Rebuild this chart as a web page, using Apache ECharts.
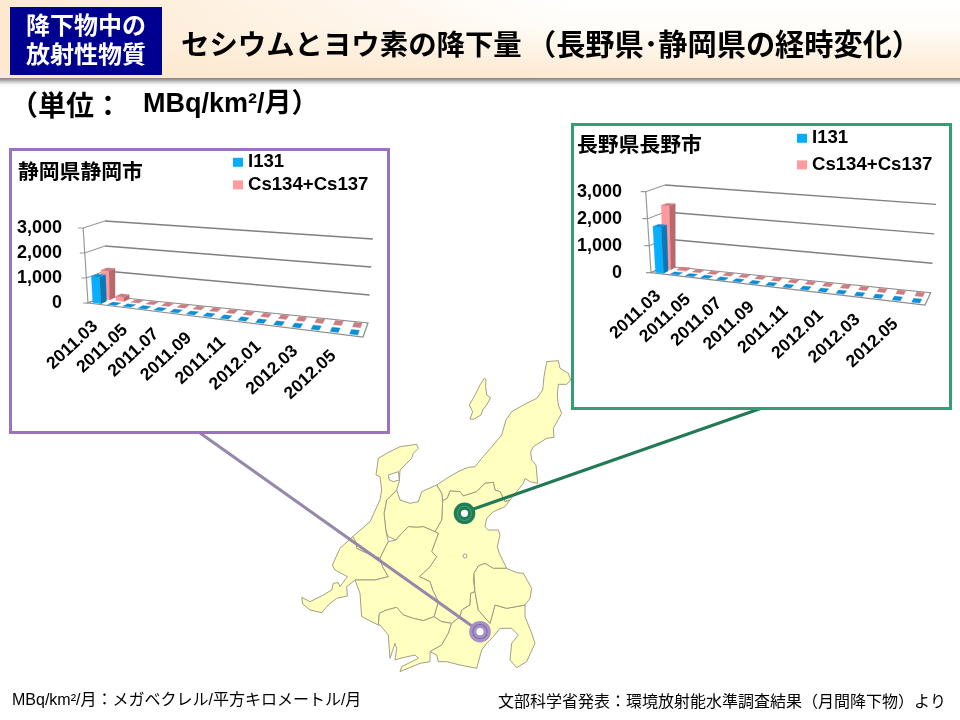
<!DOCTYPE html>
<html lang="ja">
<head>
<meta charset="utf-8">
<style>html,body{margin:0;padding:0;background:#fff}#c{width:960px;height:720px}</style>
<script src="https://cdn.jsdelivr.net/npm/echarts@6/dist/echarts.min.js"></script>
</head>
<body>
<div id="c"></div>
<script>
// ---------- data ----------
const months = ['2011.03','2011.04','2011.05','2011.06','2011.07','2011.08','2011.09','2011.10','2011.11','2011.12','2012.01','2012.02','2012.03','2012.04','2012.05','2012.06'];
const shizuokaI131 = [1050,0,0,0,0,0,0,0,0,0,0,0,0,0,0,0];
const shizuokaCs   = [1150,170,0,0,0,0,0,0,0,0,0,0,0,0,0,0];
const naganoI131   = [1700,0,0,0,0,0,0,0,0,0,0,0,0,0,0,0];
const naganoCs     = [2350,40,0,0,0,0,0,0,0,0,0,0,0,0,0,0];
const yTicks = [0,1000,2000,3000];
const seriesI = 'I131';
const seriesC = 'Cs134+Cs137';

// ---------- map outlines (decorative background, traced at 3x) ----------
const mapOrigin = [260,350];
const regions = [
 [[672,86],[678,88],[677,110],[680,135],[692,143],[680,165],[668,180],[663,195],[640,208],[630,207],[638,185],[628,165],[645,135],[660,105]],
 [[530,405],[560,385],[600,362],[625,352],[645,350],[665,325],[700,285],[725,255],[738,210],[755,185],[790,165],[830,145],[848,120],[852,80],[860,35],[895,32],[900,55],[925,70],[932,90],[920,103],[895,103],[892,135],[895,165],[905,190],[880,235],[882,262],[860,265],[820,290],[812,305],[815,330],[828,345],[833,400],[810,395],[795,385],[790,400],[750,450],[735,455],[720,425],[705,420],[700,397],[675,400],[650,425],[610,438],[600,425],[570,423],[562,445],[548,452],[545,430]],
 [[548,452],[562,445],[570,423],[600,425],[610,438],[650,425],[675,400],[700,397],[705,420],[720,425],[735,455],[750,450],[735,470],[700,485],[680,505],[675,530],[685,540],[715,540],[720,555],[712,590],[718,610],[740,655],[700,655],[675,640],[655,648],[642,670],[640,690],[645,725],[632,730],[630,765],[605,780],[600,800],[575,820],[545,815],[522,800],[535,755],[518,720],[510,695],[478,680],[510,650],[530,620],[515,605],[535,550],[525,545],[545,510]],
 [[410,420],[420,450],[450,460],[475,455],[485,425],[530,405],[545,430],[548,452],[545,510],[525,545],[490,530],[470,532],[445,530],[425,550],[408,570],[385,560],[378,545],[372,490],[380,450]],
 [[278,560],[330,515],[360,450],[365,420],[360,380],[348,375],[355,325],[380,310],[420,290],[470,283],[475,295],[460,310],[455,325],[420,360],[418,395],[410,420],[380,450],[372,490],[378,545],[385,575],[372,600],[360,625],[310,605],[290,595],[287,575]],
 [[278,560],[287,575],[290,595],[310,605],[360,625],[368,650],[385,680],[345,690],[285,690],[260,710],[262,738],[230,745],[205,765],[185,788],[150,780],[128,762],[125,742],[150,755],[190,735],[215,720],[220,700],[235,698],[240,710],[262,680],[225,660],[217,645],[240,595]],
 [[372,600],[385,575],[408,570],[425,550],[445,530],[470,532],[490,530],[525,545],[535,550],[515,605],[530,620],[510,650],[478,680],[510,695],[518,720],[535,755],[522,800],[490,812],[460,805],[430,795],[410,772],[380,780],[358,790],[355,825],[305,800],[300,730],[285,690],[345,690],[385,680],[368,650],[360,625]],
 [[358,790],[380,780],[410,772],[430,795],[460,805],[490,812],[522,800],[545,815],[575,820],[565,850],[545,885],[510,905],[510,935],[480,940],[420,965],[425,950],[475,925],[465,915],[420,925],[405,930],[410,895],[405,880],[390,925],[385,855],[360,825],[355,825]],
 [[575,820],[600,800],[605,780],[630,765],[632,730],[645,725],[655,780],[690,820],[705,765],[740,775],[795,765],[795,800],[805,825],[815,850],[825,880],[800,935],[770,953],[750,930],[755,880],[775,855],[755,835],[720,835],[700,860],[680,880],[665,900],[650,955],[600,945],[560,935],[535,935],[530,915],[510,905],[545,885],[565,850]],
 [[655,780],[645,725],[642,670],[655,648],[675,640],[700,655],[740,655],[770,668],[790,670],[815,715],[810,745],[795,765],[740,775],[705,765],[690,820]]
];
const bayHole = [[385,375],[415,365],[418,390],[400,395],[388,390]];

const FONT = '"Liberation Sans","Noto Sans CJK JP",sans-serif';
const CJK = '"Noto Sans CJK JP","Liberation Sans",sans-serif';

// ---------- oblique projection of each chart's floor ----------
const views = [
  {left:88,  bottom:303,   width:275, height:75, frontDrop:34,   backDx:17, backDy:-7,   backRightDx:5,   backRightDy:-14,   grow:.12},
  {left:651, bottom:272.7, width:274, height:81, frontDrop:32.3, backDx:14, backDy:-6.7, backRightDx:5.7, backRightDy:-12.3, grow:.09}
];
function warp(t){ return t*(0.84+0.16*t); }
function project(view,u,d,hPx){
  const fx = view.left + view.width*u, fy = view.bottom + view.frontDrop*u;
  const bx = fx + view.backDx + (view.backRightDx-view.backDx)*u;
  const by = fy + view.backDy + (view.backRightDy-view.backDy)*u;
  const tilt = -0.065*(1-d)*(1-u) + 0.065*u;
  return [fx+(bx-fx)*d + hPx*tilt, fy+(by-fy)*d - hPx*(1+view.grow*u)];
}
function poly(points,fill,stroke){
  return {type:'polygon',shape:{points},style:{fill,stroke:stroke||fill,lineWidth:0.3}};
}
function barRenderer(view,d0,d1,front,side,top){
  return function(params,api){
    const i = api.value(0), v = api.value(1);
    const base = api.coord([i,0]), tip = api.coord([i,v]);
    const band = api.size([1,0])[0];
    const u = warp((base[0]-view.left)/view.width);
    const half = band/view.width*0.24;
    const h = base[1]-tip[1];
    const u0=u-half, u1=u+half;
    const c=[];
    if(h>0){
      c.push(poly([project(view,u0,d0,0),project(view,u1,d0,0),project(view,u1,d0,h),project(view,u0,d0,h)],front));
      c.push(poly([project(view,u1,d0,0),project(view,u1,d1,0),project(view,u1,d1,h),project(view,u1,d0,h)],side));
    }
    c.push(poly([project(view,u0,d0,h),project(view,u1,d0,h),project(view,u1,d1,h),project(view,u0,d1,h)],top));
    return {type:'group',children:c};
  };
}
function wallRenderer(view){
  return function(params,api){
    const v = api.value(0);
    const h = api.coord([0,0])[1]-api.coord([0,v])[1];
    const s = {stroke:'#7f7f7f',lineWidth:1.3,fill:null};
    const a=project(view,0,0,h), b=project(view,0,1,h), c=project(view,1,1,h);
    const kids=[{type:'polyline',shape:{points:[[a[0]-5,a[1]],a,b]},style:{stroke:'#999',lineWidth:1.2,fill:null}}];
    if(v>0) kids.push({type:'polyline',shape:{points:[b,c]},style:s});
    else {
      kids.push({type:'polygon',shape:{points:[a,project(view,1,0,0),project(view,1,1,0),b]},style:{fill:'#fff',stroke:'#8c8c8c',lineWidth:1.2}});
    }
    if(v===yTicks[yTicks.length-1]) kids.push({type:'line',shape:{x1:a[0],y1:a[1],x2:view.left,y2:view.bottom},style:{stroke:'#999',lineWidth:1.2}});
    return {type:'group',children:kids};
  };
}
function labelRenderer(view){
  return function(params,api){
    const i = api.value(0);
    const base = api.coord([i,0]);
    const u = warp((base[0]-view.left)/view.width);
    const p = project(view,u,0,0);
    return {type:'text',x:p[0],y:p[1]+20,rotation:43*Math.PI/180,
      style:{text:months[i],align:'right',verticalAlign:'middle',fontFamily:FONT,fontWeight:'bold',fontSize:17.5,fill:'#000'}};
  };
}
const everyOther = months.map((m,i)=>i).filter(i=>i%2===0).map(i=>[i]);
const chartSets = [[shizuokaI131,shizuokaCs],[naganoI131,naganoCs]];

const grids=[],xAxes=[],yAxes=[],series=[];
views.forEach((view,k)=>{
  grids.push({left:view.left,top:view.bottom-view.height,width:view.width,height:view.height,containLabel:false});
  xAxes.push({gridIndex:k,type:'category',data:months,show:false});
  yAxes.push({gridIndex:k,type:'value',min:0,max:3000,interval:1000,
    axisLine:{show:false},axisTick:{show:false},splitLine:{show:false},
    axisLabel:{margin:k===0?26:29,fontFamily:FONT,fontWeight:'bold',fontSize:18,color:'#000',
      formatter:v=>v.toLocaleString('en-US')}});
  const ax={xAxisIndex:k,yAxisIndex:k,coordinateSystem:'cartesian2d',type:'custom',silent:true,clip:false};
  series.push(Object.assign({},ax,{name:'wall'+k,z:2,data:yTicks.map(v=>[v]),renderItem:wallRenderer(view),encode:{x:-1,y:0}}));
  series.push(Object.assign({},ax,{name:'labels'+k,z:2,data:everyOther,renderItem:labelRenderer(view),encode:{x:0,y:-1}}));
  const toPairs=a=>a.map((v,i)=>[i,v]);
  series.push(Object.assign({},ax,{name:seriesC,z:3,itemStyle:{color:'#ff9a9e'},data:toPairs(chartSets[k][1]),
    renderItem:barRenderer(view,0.62,0.95,'#ff9a9e','#b9686c','#cc7d82'),encode:{x:0,y:1}}));
  series.push(Object.assign({},ax,{name:seriesI,z:4,itemStyle:{color:'#00aeff'},data:toPairs(chartSets[k][0]),
    renderItem:barRenderer(view,0.1,0.43,'#0aaeff','#0a78b4','#0e8fd4'),encode:{x:0,y:1}}));
});

// ---------- decoration ----------
const graphic=[];
graphic.push({type:'rect',z:10,shape:{x:-10,y:0,width:980,height:78},
  style:{fill:{type:'linear',x:0,y:0,x2:0,y2:1,colorStops:[{offset:0,color:'#ffffff'},{offset:0.35,color:'#fffdf9'},{offset:1,color:'#fde9d0'}]},
  shadowColor:'rgba(0,0,0,.55)',shadowBlur:5,shadowOffsetY:3}});
graphic.push({type:'rect',z:11,shape:{x:0,y:0,width:960,height:78},
  style:{fill:{type:'linear',x:0,y:0,x2:1,y2:0,colorStops:[{offset:0,color:'rgba(253,233,208,1)'},{offset:0.6,color:'rgba(253,233,208,0)'},{offset:1,color:'rgba(253,233,208,0)'}]}}});
graphic.push({type:'rect',z:12,shape:{x:10,y:7,width:152,height:68},style:{fill:'#000090'}});
graphic.push({type:'text',z:13,x:86,y:39,style:{text:'降下物中の\n放射性物質',align:'center',verticalAlign:'middle',lineHeight:29,fontFamily:CJK,fontWeight:'bold',fontSize:24,fill:'#fff'}});
graphic.push({type:'text',z:13,x:181,y:44,style:{text:'セシウムとヨウ素の降下量',verticalAlign:'middle',fontFamily:CJK,fontWeight:'bold',fontSize:28.4,fill:'#000'}});
graphic.push({type:'text',z:13,x:527,y:44,style:{text:'（長野県･静岡県の経時変化）',verticalAlign:'middle',fontFamily:CJK,fontWeight:'bold',fontSize:29.2,fill:'#000'}});
graphic.push({type:'text',z:13,x:10,y:105,style:{text:'（単位：',verticalAlign:'middle',fontFamily:CJK,fontWeight:'bold',fontSize:28,fill:'#000'}});
graphic.push({type:'text',z:13,x:143,y:105,style:{text:'MBq/km²/月）',verticalAlign:'middle',fontFamily:FONT,fontWeight:'bold',fontSize:27,fill:'#000'}});
graphic.push({type:'text',z:13,x:12,y:701,style:{text:'MBq/km²/月：メガベクレル/平方キロメートル/月',verticalAlign:'middle',fontFamily:FONT,fontSize:16,fill:'#000'}});
graphic.push({type:'text',z:13,x:498,y:701,style:{text:'文部科学省発表：環境放射能水準調査結果（月間降下物）より',verticalAlign:'middle',fontFamily:CJK,fontSize:16,fill:'#000'}});

const toPx=p=>[mapOrigin[0]+p[0]/3,mapOrigin[1]+p[1]/3];
regions.forEach(r=>graphic.push({type:'polygon',z:-5,shape:{points:r.map(toPx)},style:{fill:'#ffffc0',stroke:'#95957c',lineWidth:0.9}}));
graphic.push({type:'polygon',z:-4,shape:{points:bayHole.map(toPx)},style:{fill:'#fff',stroke:'#95957c',lineWidth:0.9}});
graphic.push({type:'circle',z:-4,shape:{cx:465,cy:556,r:2},style:{fill:'#fff',stroke:'#95957c',lineWidth:0.9}});
graphic.push({type:'line',z:-3,shape:{x1:200,y1:433,x2:479,y2:631},style:{stroke:'#9687ab',lineWidth:3}});
graphic.push({type:'line',z:-3,shape:{x1:465,y1:512,x2:762,y2:408},style:{stroke:'#217a55',lineWidth:3}});
function target(cx,cy,outer,ring){
  [[10.8,outer],[7.6,ring],[6.6,outer],[3.6,'#fff']].forEach(([r,fill],i)=>graphic.push({type:'circle',z:-2+i*0.1,shape:{cx,cy,r},style:{fill}}));
}
target(464.5,513.3,'#1e7d52','#41a078');
target(480,631.7,'#a891c4','#7f68a6');
graphic.push({type:'rect',z:-1,shape:{x:10.5,y:149.5,width:378,height:283},style:{fill:'#fff',stroke:'#9b72c0',lineWidth:3}});
graphic.push({type:'rect',z:-1,shape:{x:572.5,y:124.5,width:378,height:284},style:{fill:'#fff',stroke:'#339e72',lineWidth:3}});

const option={
  animation:false,
  backgroundColor:'#fff',
  title:[
    {text:'静岡県静岡市',left:18,top:161,textStyle:{fontFamily:CJK,fontWeight:'bold',fontSize:20.8,color:'#000'},padding:0},
    {text:'長野県長野市',left:577,top:134,textStyle:{fontFamily:CJK,fontWeight:'bold',fontSize:20.8,color:'#000'},padding:0}
  ],
  legend:[
    {orient:'vertical',left:233,top:153,padding:0,itemGap:4,itemWidth:10,itemHeight:9,selectedMode:false,icon:'rect',data:[seriesI,seriesC],
      textStyle:{fontFamily:FONT,fontWeight:'bold',fontSize:18.6,color:'#000'}},
    {orient:'vertical',left:797,top:129,padding:0,itemGap:8,itemWidth:10,itemHeight:9,selectedMode:false,icon:'rect',data:[seriesI,seriesC],
      textStyle:{fontFamily:FONT,fontWeight:'bold',fontSize:18.6,color:'#000'}}
  ],
  grid:grids,xAxis:xAxes,yAxis:yAxes,series,graphic:{elements:graphic}
};
const chart=echarts.init(document.getElementById('c'),null,{renderer:'canvas'});
chart.setOption(option);
</script>
</body>
</html>
